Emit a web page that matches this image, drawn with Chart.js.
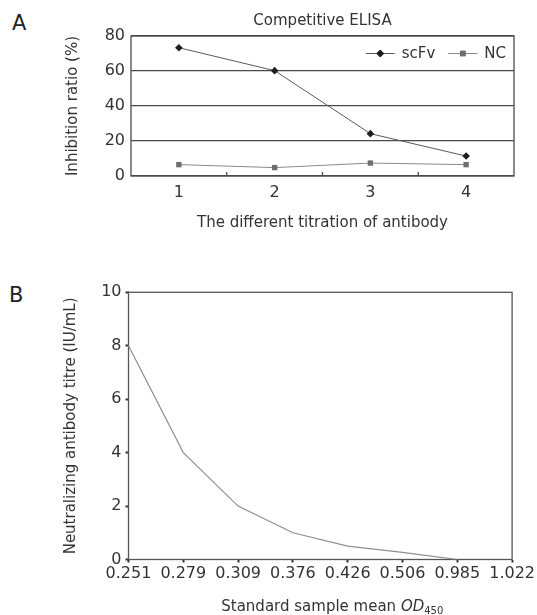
<!DOCTYPE html>
<html>
<head>
<meta charset="utf-8">
<script src="https://cdn.jsdelivr.net/npm/chart.js@4.4.1/dist/chart.umd.min.js"></script>
<style>
  html, body { margin: 0; padding: 0; background: #fff; }
  body { position: relative; width: 537px; height: 615px; overflow: hidden; font-family: "DejaVu Sans", sans-serif; }
  .panel { position: absolute; left: 0; }
  .letter { position: absolute; font-size: 21px; color: #222; }
</style>
</head>
<body>
<div class="letter" style="left:12px; top:11px;">A</div>
<div class="letter" style="left:9px; top:283px;">B</div>
<div class="panel" style="top:0;"><canvas id="chartA" width="537" height="250"></canvas></div>
<div class="panel" style="top:250px;"><canvas id="chartB" width="537" height="365"></canvas></div>
<script>
// Panel A - competitive ELISA
const titrations = ['1', '2', '3', '4'];
const scfvValues = [73.3, 60.2, 24.2, 11.4];
const ncValues = [6.5, 4.8, 7.4, 6.5];

// Panel B - standard curve
const odLabels = ['0.251', '0.279', '0.309', '0.376', '0.426', '0.506', '0.985', '1.022'];
const titreValues = [8, 4, 2, 1, 0.5, 0.27, 0, null];

const FONT = '"DejaVu Sans", sans-serif';
const TEXT = '#333';

// box around plot area + small inward ticks between categories
const frame = {
    id: 'frame',
    beforeDatasetsDraw(chart, args, opts) {
        const { ctx, chartArea: a, scales } = chart;
        ctx.save();
        ctx.strokeStyle = opts.color;
        ctx.lineWidth = opts.width;
        ctx.strokeRect(a.left, a.top, a.right - a.left, a.bottom - a.top);
        if (opts.innerTicks) {
            const x = scales.x;
            ctx.beginPath();
            for (let i = 0; i < x.ticks.length - 1; i++) {
                const px = (x.getPixelForTick(i) + x.getPixelForTick(i + 1)) / 2;
                ctx.moveTo(px, a.bottom);
                ctx.lineTo(px, a.bottom - 4);
            }
            ctx.stroke();
        }
        ctx.restore();
    }
};

// legend drawn as line + marker + label, inside top right
const lineLegend = {
    id: 'lineLegend',
    afterDatasetsDraw(chart) {
        const { ctx, chartArea: a } = chart;
        const lineLen = 29, gap = 7, itemGap = 13;
        ctx.save();
        ctx.font = '15px ' + FONT;
        const items = chart.data.datasets.map(ds => ({ ds, w: ctx.measureText(ds.label).width }));
        let total = 0;
        items.forEach((it, i) => { total += lineLen + gap + it.w + (i ? itemGap : 0); });
        let x = a.right - 8 - total;
        const y = a.top + 17.5;
        items.forEach(it => {
            const ds = it.ds;
            ctx.strokeStyle = ds.borderColor;
            ctx.lineWidth = ds.borderWidth;
            ctx.beginPath();
            ctx.moveTo(x, y);
            ctx.lineTo(x + lineLen, y);
            ctx.stroke();
            Chart.helpers.drawPoint(ctx, {
                pointStyle: ds.pointStyle, radius: ds.pointRadius, borderWidth: 0, rotation: 0
            }, x + lineLen / 2, y);
            ctx.fillStyle = ds.pointBackgroundColor;
            ctx.fill();
            ctx.fillStyle = TEXT;
            ctx.textBaseline = 'middle';
            ctx.textAlign = 'left';
            ctx.fillText(ds.label, x + lineLen + gap, y + 1);
            x += lineLen + gap + it.w + itemGap;
        });
        ctx.restore();
    }
};

new Chart(document.getElementById('chartA'), {
    type: 'line',
    data: {
        labels: titrations,
        datasets: [
            {
                label: 'scFv',
                data: scfvValues,
                borderColor: '#5a5a5a',
                borderWidth: 1,
                pointStyle: 'rectRot',
                pointRadius: 3.8,
                pointBorderWidth: 0,
                pointBackgroundColor: '#1e1e1e',
                tension: 0
            },
            {
                label: 'NC',
                data: ncValues,
                borderColor: '#8a8a8a',
                borderWidth: 1,
                pointStyle: 'rect',
                pointRadius: 3.8,
                pointBorderWidth: 0,
                pointBackgroundColor: '#6e6e6e',
                tension: 0
            }
        ]
    },
    options: {
        responsive: false,
        animation: false,
        layout: { padding: { left: 64.5, right: 23, top: 0, bottom: 18 } },
        plugins: {
            legend: { display: false },
            tooltip: { enabled: false },
            title: {
                display: true,
                text: 'Competitive ELISA',
                fullSize: false,
                color: TEXT,
                font: { family: FONT, size: 15, weight: 'normal', lineHeight: 1.2 },
                padding: { top: 12, bottom: 6 }
            },
            frame: { color: '#4a4a4a', width: 1.3, innerTicks: true }
        },
        scales: {
            x: {
                type: 'category',
                offset: true,
                grid: { display: false, drawTicks: false },
                border: { display: false },
                ticks: { color: TEXT, font: { family: FONT, size: 16 }, padding: 7 },
                title: {
                    display: true,
                    text: 'The different titration of antibody',
                    color: TEXT,
                    font: { family: FONT, size: 15, lineHeight: 1.2 },
                    padding: { top: 0, bottom: 0 }
                },
                afterFit(s) { s.height = 56; }
            },
            y: {
                min: 0,
                max: 80,
                ticks: { stepSize: 20, color: TEXT, font: { family: FONT, size: 16 }, padding: 6 },
                grid: { color: '#4a4a4a', lineWidth: 1.3, drawTicks: false },
                border: { display: false },
                title: {
                    display: true,
                    text: 'Inhibition ratio (%)',
                    color: TEXT,
                    font: { family: FONT, size: 15, lineHeight: 1.2 },
                    padding: { top: 0, bottom: 0 }
                },
                afterFit(s) { s.width = 66.5; }
            }
        }
    },
    plugins: [frame, lineLegend]
});

// x title with italic OD and subscript 450
const odTitle = {
    id: 'odTitle',
    afterDraw(chart) {
        const { ctx, chartArea: a } = chart;
        const parts = [
            { t: 'Standard sample mean ', f: '15px ' + FONT, dy: 0 },
            { t: 'OD', f: 'italic 15px ' + FONT, dy: 0 },
            { t: '450', f: '10px ' + FONT, dy: 4 }
        ];
        ctx.save();
        let w = 0;
        parts.forEach(p => { ctx.font = p.f; p.w = ctx.measureText(p.t).width; w += p.w; });
        let x = (a.left + a.right) / 2 + 12 - w / 2;
        const y = a.bottom + 47.5;
        ctx.fillStyle = TEXT;
        ctx.textBaseline = 'middle';
        ctx.textAlign = 'left';
        parts.forEach(p => {
            ctx.font = p.f;
            ctx.fillText(p.t, x, y + p.dy);
            x += p.w;
        });
        ctx.restore();
    }
};

new Chart(document.getElementById('chartB'), {
    type: 'line',
    data: {
        labels: odLabels,
        datasets: [{
            data: titreValues,
            borderColor: '#8f8f8f',
            borderWidth: 1.2,
            pointRadius: 0,
            tension: 0,
            spanGaps: false
        }]
    },
    options: {
        responsive: false,
        animation: false,
        layout: { padding: { left: 62, right: 22, top: 42.3, bottom: 15.5 } },
        plugins: {
            legend: { display: false },
            tooltip: { enabled: false },
            frame: { color: '#555', width: 1.3, innerTicks: false }
        },
        scales: {
            x: {
                type: 'category',
                offset: false,
                grid: { drawOnChartArea: false, drawTicks: true, tickLength: 3, tickWidth: 2, tickColor: '#333' },
                border: { display: false },
                ticks: { color: TEXT, font: { family: FONT, size: 16 }, padding: 2, maxRotation: 0, autoSkip: false },
                afterFit(s) { s.height = 40; }
            },
            y: {
                min: 0,
                max: 10,
                ticks: { stepSize: 2, color: TEXT, font: { family: FONT, size: 16 }, padding: 4 },
                grid: { drawOnChartArea: false, drawTicks: true, tickLength: 3, tickWidth: 2, tickColor: '#333' },
                border: { display: false },
                title: {
                    display: true,
                    text: 'Neutralizing antibody titre (IU/mL)',
                    color: TEXT,
                    font: { family: FONT, size: 15, lineHeight: 1.2 },
                    padding: { top: 0, bottom: 0 }
                },
                afterFit(s) { s.width = 66.5; }
            }
        }
    },
    plugins: [frame, odTitle]
});
</script>
</body>
</html>
